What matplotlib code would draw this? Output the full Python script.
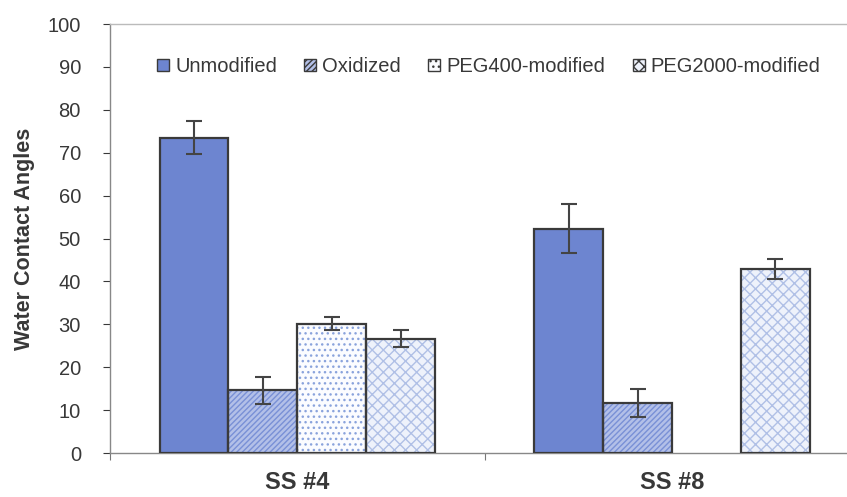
import matplotlib.pyplot as plt
import numpy as np
from matplotlib.patches import Patch

plt.rcParams["font.family"] = ["Liberation Sans", "DejaVu Sans"]

samples = ["SS #4", "SS #8"]
series = ["Unmodified", "Oxidized", "PEG400-modified", "PEG2000-modified"]
means = {
    "Unmodified": [73.5, 52.3],
    "Oxidized": [14.6, 11.6],
    "PEG400-modified": [30.1, np.nan],
    "PEG2000-modified": [26.6, 42.9],
}
errors = {
    "Unmodified": [3.9, 5.7],
    "Oxidized": [3.2, 3.3],
    "PEG400-modified": [1.5, np.nan],
    "PEG2000-modified": [2.0, 2.3],
}

# fill, hatch, hatch colour per series
styles = {
    "Unmodified": ("#6d85d0", None, None),
    "Oxidized": ("#b3c0e8", "//////", "#7990d6"),
    "PEG400-modified": ("#fbfcff", "...", "#8aa3dc"),
    "PEG2000-modified": ("#eef2fb", "xxx", "#b0c0e6"),
}

edge = "#3a3a3a"
text_color = "#383838"

fig = plt.figure(figsize=(8.47, 4.97), dpi=100)
ax = fig.add_axes([0.130, 0.0885, 0.870, 0.8632])

x = np.arange(len(samples))
width = 0.184
offsets = (np.arange(len(series)) - 1.5) * width

handles = []
for off, name in zip(offsets, series):
    face, hatch, hcol = styles[name]
    vals = np.array(means[name], dtype=float)
    errs = np.array(errors[name], dtype=float)
    ok = ~np.isnan(vals)
    pos = x[ok] + off
    if hatch:
        ax.bar(pos, vals[ok], width, color=face, hatch=hatch, edgecolor=hcol,
               linewidth=0, zorder=2)
    else:
        ax.bar(pos, vals[ok], width, color=face, linewidth=0, zorder=2)
    ax.bar(pos, vals[ok], width, fill=False, edgecolor=edge, linewidth=1.6, zorder=3)
    ax.errorbar(pos, vals[ok], yerr=errs[ok], fmt="none", ecolor="#444444",
                elinewidth=1.5, capsize=6, capthick=1.5, zorder=4)
    handles.append(Patch(facecolor=face, hatch=hatch, edgecolor=edge, linewidth=1.0,
                         label=name))

ax.set_ylim(0, 100)
ax.set_xlim(-0.5, 1.467)
ax.set_yticks(np.arange(0, 101, 10))
ax.tick_params(axis="y", labelsize=14.5, colors=text_color, length=5, width=0.8,
               direction="out", pad=16)
ax.set_xticks(x)
ax.set_xticklabels(samples, fontsize=17, fontweight="bold", color=text_color)
ax.tick_params(axis="x", length=0, pad=13)
# category separators below the axis
ax.set_xticks([-0.5, 0.5], minor=True)
ax.tick_params(axis="x", which="minor", length=5, width=0.8, color="#777777")

ax.set_ylabel("Water Contact Angles", fontsize=15.5, fontweight="bold",
              color=text_color, labelpad=9)

for side in ["left", "bottom"]:
    ax.spines[side].set_color("#888888")
    ax.spines[side].set_linewidth(1.0)
ax.spines["right"].set_visible(False)
ax.spines["top"].set_color("#bbbbbb")
ax.spines["top"].set_linewidth(1.0)

leg = ax.legend(handles=handles, loc="upper center", bbox_to_anchor=(0.514, 0.965),
                ncol=4, frameon=False, fontsize=14.5, handlelength=0.6,
                handleheight=0.6, handletextpad=0.3, columnspacing=1.35)
for t in leg.get_texts():
    t.set_color(text_color)

fig.savefig("out.png", dpi=100)
